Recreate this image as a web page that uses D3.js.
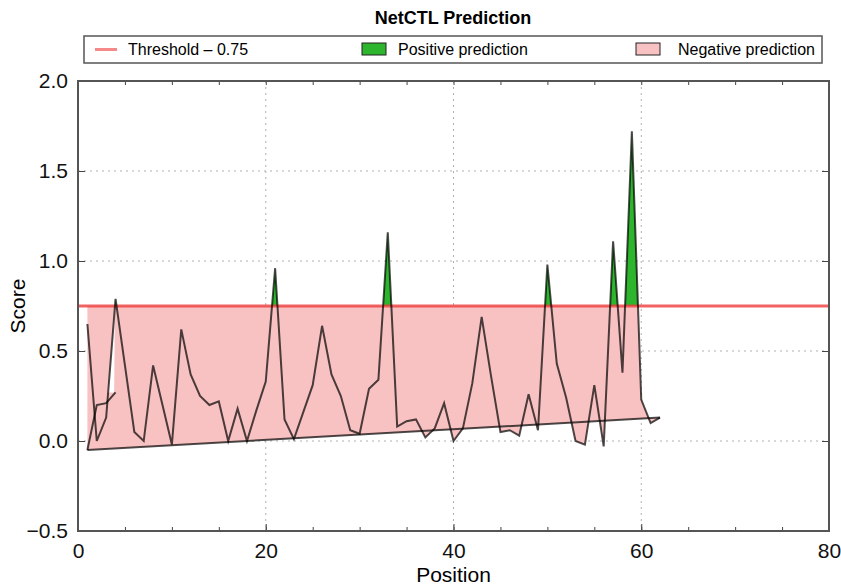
<!DOCTYPE html>
<html>
<head>
<meta charset="utf-8">
<script src="https://cdn.jsdelivr.net/npm/d3@7"></script>
<style>
  body { margin: 0; background: #fff; }
  text { font-family: "Liberation Sans", Arial, sans-serif; }
</style>
</head>
<body>
<svg width="841" height="587"></svg>
<script>
// Score per position (1..62)
var positions = d3.range(1, 63);
var scores = [0.65, 0.0, 0.13, 0.79, 0.42, 0.05, 0.0, 0.42, 0.2, -0.02,
              0.62, 0.37, 0.25, 0.2, 0.22, 0.0, 0.18, 0.0, 0.17, 0.33,
              0.96, 0.12, 0.01, 0.16, 0.31, 0.64, 0.37, 0.25, 0.06, 0.04,
              0.29, 0.34, 1.16, 0.08, 0.11, 0.12, 0.02, 0.07, 0.21, 0.0,
              0.07, 0.32, 0.69, 0.36, 0.05, 0.06, 0.03, 0.26, 0.06, 0.98,
              0.43, 0.24, 0.0, -0.02, 0.31, -0.03, 1.11, 0.38, 1.72, 0.23,
              0.10, 0.13];
var threshold = 0.75;
// straight lower edge of the filled region
var baseX = [1, 62];
var baseY = [-0.05, 0.13];
// short stray segment at the start
var strayX = [1, 2, 3, 4];
var strayY = [-0.05, 0.2, 0.21, 0.27];

var xTicks = [0, 20, 40, 60, 80];
var yTicks = [-0.5, 0, 0.5, 1.0, 1.5, 2.0];
var legendLabels = ["Threshold \u2013 0.75", "Positive prediction", "Negative prediction"];

var svg = d3.select("svg");
var pLeft = 78, pRight = 829, pTop = 81, pBottom = 531;

var x = d3.scaleLinear().domain([0, 80]).range([pLeft, pRight]);
var y = d3.scaleLinear().domain([-0.5, 2.0]).range([pBottom, pTop]);

var pts = positions.map(function(p, i) { return [p, scores[i]]; });
function baseAt(px) {
    return baseY[0] + (baseY[1] - baseY[0]) * (px - baseX[0]) / (baseX[1] - baseX[0]);
}
var line = d3.line().x(function(d) { return x(d[0]); }).y(function(d) { return y(d[1]); });

var defs = svg.append("defs");
defs.append("clipPath").attr("id", "above")
    .append("rect").attr("x", pLeft).attr("y", pTop)
    .attr("width", pRight - pLeft).attr("height", y(threshold) - pTop);
defs.append("clipPath").attr("id", "belowBase")
    .append("path")
    .attr("d", d3.line()([[x(baseX[0]), y(baseY[0])], [x(baseX[1]), y(baseY[1])],
                          [x(baseX[1]), pBottom], [x(baseX[0]), pBottom]]) + "Z");

// grid
var grid = svg.append("g");
xTicks.slice(1, -1).forEach(function(t) {
    grid.append("line").attr("x1", x(t)).attr("x2", x(t)).attr("y1", pTop).attr("y2", pBottom)
        .attr("stroke", "#b0b0b0").attr("stroke-width", 1).attr("stroke-dasharray", "2,4");
});
yTicks.slice(1, -1).forEach(function(t) {
    grid.append("line").attr("x1", pLeft).attr("x2", pRight).attr("y1", y(t)).attr("y2", y(t))
        .attr("stroke", "#b0b0b0").attr("stroke-width", 1).attr("stroke-dasharray", "2,4");
});

var pink = "#f9c2c2";
var green = "#2db52d";

// negative region: baseline up to threshold, right edge follows the score after the last peak
var n = scores.length;
var iPeak = n - 4; // last peak (position 59)
var xc = positions[iPeak] + (scores[iPeak] - threshold) / (scores[iPeak] - scores[iPeak + 1]);
var negPoly = [[positions[0], threshold], [xc, threshold]]
    .concat(pts.slice(iPeak + 1))
    .concat([[baseX[0], baseY[0]]]);
svg.append("path").attr("d", line(negPoly) + "Z").attr("fill", pink);

// parts where the score dips under the baseline
svg.append("path")
    .datum(pts)
    .attr("clip-path", "url(#belowBase)")
    .attr("fill", pink)
    .attr("d", d3.area().x(function(d) { return x(d[0]); })
        .y0(function(d) { return y(baseAt(d[0])); })
        .y1(function(d) { return y(d[1]); }));

// white sliver next to the stray segment end
var s3 = scores[2], s4 = scores[3];
var endY = strayY[strayY.length - 1];
var gap = [[3 + (endY - s3) / (s4 - s3), endY], [strayX[3] - 0.15, endY],
           [3 + (threshold - s3) / (s4 - s3), threshold]];
svg.append("path").attr("d", line(gap) + "Z").attr("fill", "#fff");

// positive region
svg.append("path")
    .datum(pts)
    .attr("clip-path", "url(#above)")
    .attr("fill", green)
    .attr("d", d3.area().x(function(d) { return x(d[0]); })
        .y0(y(threshold))
        .y1(function(d) { return y(d[1]); }));

// threshold line
svg.append("line")
    .attr("x1", pLeft).attr("x2", pRight)
    .attr("y1", y(threshold)).attr("y2", y(threshold))
    .attr("stroke", "#ee3b3b").attr("stroke-opacity", 0.8).attr("stroke-width", 3);

// score line, baseline, stray segment
svg.append("path").datum(pts).attr("d", line)
    .attr("fill", "none").attr("stroke", "#000").attr("stroke-opacity", 0.7).attr("stroke-width", 2);
svg.append("path").datum(baseX.map(function(v, i) { return [v, baseY[i]]; })).attr("d", line)
    .attr("fill", "none").attr("stroke", "#000").attr("stroke-opacity", 0.7).attr("stroke-width", 2);
svg.append("path").datum(strayX.map(function(v, i) { return [v, strayY[i]]; })).attr("d", line)
    .attr("fill", "none").attr("stroke", "#000").attr("stroke-opacity", 0.7).attr("stroke-width", 2);

// axes (ticks point inward)
var minorX = d3.range(0, 81, 5);
function styleAxis(g) {
    g.select(".domain").remove();
    g.selectAll("line").attr("stroke", "#444");
    g.selectAll("text").attr("font-size", "21px").attr("fill", "#111")
        .style("font-family", "Liberation Sans, Arial, sans-serif");
}
svg.append("g").attr("transform", "translate(0," + pBottom + ")")
    .call(d3.axisBottom(x).tickValues(minorX).tickFormat("").tickSize(-4)).call(styleAxis);
svg.append("g").attr("transform", "translate(0," + pBottom + ")")
    .call(d3.axisBottom(x).tickValues(xTicks).tickFormat(d3.format("d")).tickSizeInner(-7).tickPadding(12))
    .call(styleAxis);
svg.append("g").attr("transform", "translate(0," + pTop + ")")
    .call(d3.axisTop(x).tickValues(minorX).tickFormat("").tickSize(-4)).call(styleAxis);
svg.append("g").attr("transform", "translate(" + pLeft + ",0)")
    .call(d3.axisLeft(y).tickValues(yTicks).tickFormat(d3.format(".1f")).tickSizeInner(-7).tickPadding(10))
    .call(styleAxis);
svg.append("g").attr("transform", "translate(" + pRight + ",0)")
    .call(d3.axisRight(y).tickValues(yTicks).tickFormat("").tickSize(-7)).call(styleAxis);

svg.append("rect").attr("x", pLeft).attr("y", pTop)
    .attr("width", pRight - pLeft).attr("height", pBottom - pTop)
    .attr("fill", "none").attr("stroke", "#555").attr("stroke-width", 2);

// labels
svg.append("text").attr("x", 453).attr("y", 24).attr("text-anchor", "middle")
    .attr("font-size", "18px").attr("font-weight", "bold").text("NetCTL Prediction");
svg.append("text").attr("x", (pLeft + pRight) / 2).attr("y", 582).attr("text-anchor", "middle")
    .attr("font-size", "21px").text("Position");
svg.append("text").attr("transform", "translate(25," + y(threshold) + ") rotate(-90)")
    .attr("text-anchor", "middle").attr("font-size", "21px").text("Score");

// legend
var lg = svg.append("g");
lg.append("rect").attr("x", 84).attr("y", 36).attr("width", 738).attr("height", 27)
    .attr("fill", "#fff").attr("stroke", "#555").attr("stroke-width", 1.5);
lg.append("line").attr("x1", 95).attr("x2", 117).attr("y1", 49.5).attr("y2", 49.5)
    .attr("stroke", "#ee3b3b").attr("stroke-opacity", 0.6).attr("stroke-width", 3);
lg.append("rect").attr("x", 362).attr("y", 43).attr("width", 24).attr("height", 12)
    .attr("fill", green).attr("stroke", "#222").attr("stroke-width", 1);
lg.append("rect").attr("x", 636).attr("y", 43).attr("width", 24).attr("height", 12)
    .attr("fill", pink).attr("stroke", "#222").attr("stroke-width", 1);
var lx = [128, 398, 678];
legendLabels.forEach(function(t, i) {
    lg.append("text").attr("x", lx[i]).attr("y", 55).attr("font-size", "16px").text(t);
});
</script>
</body>
</html>
